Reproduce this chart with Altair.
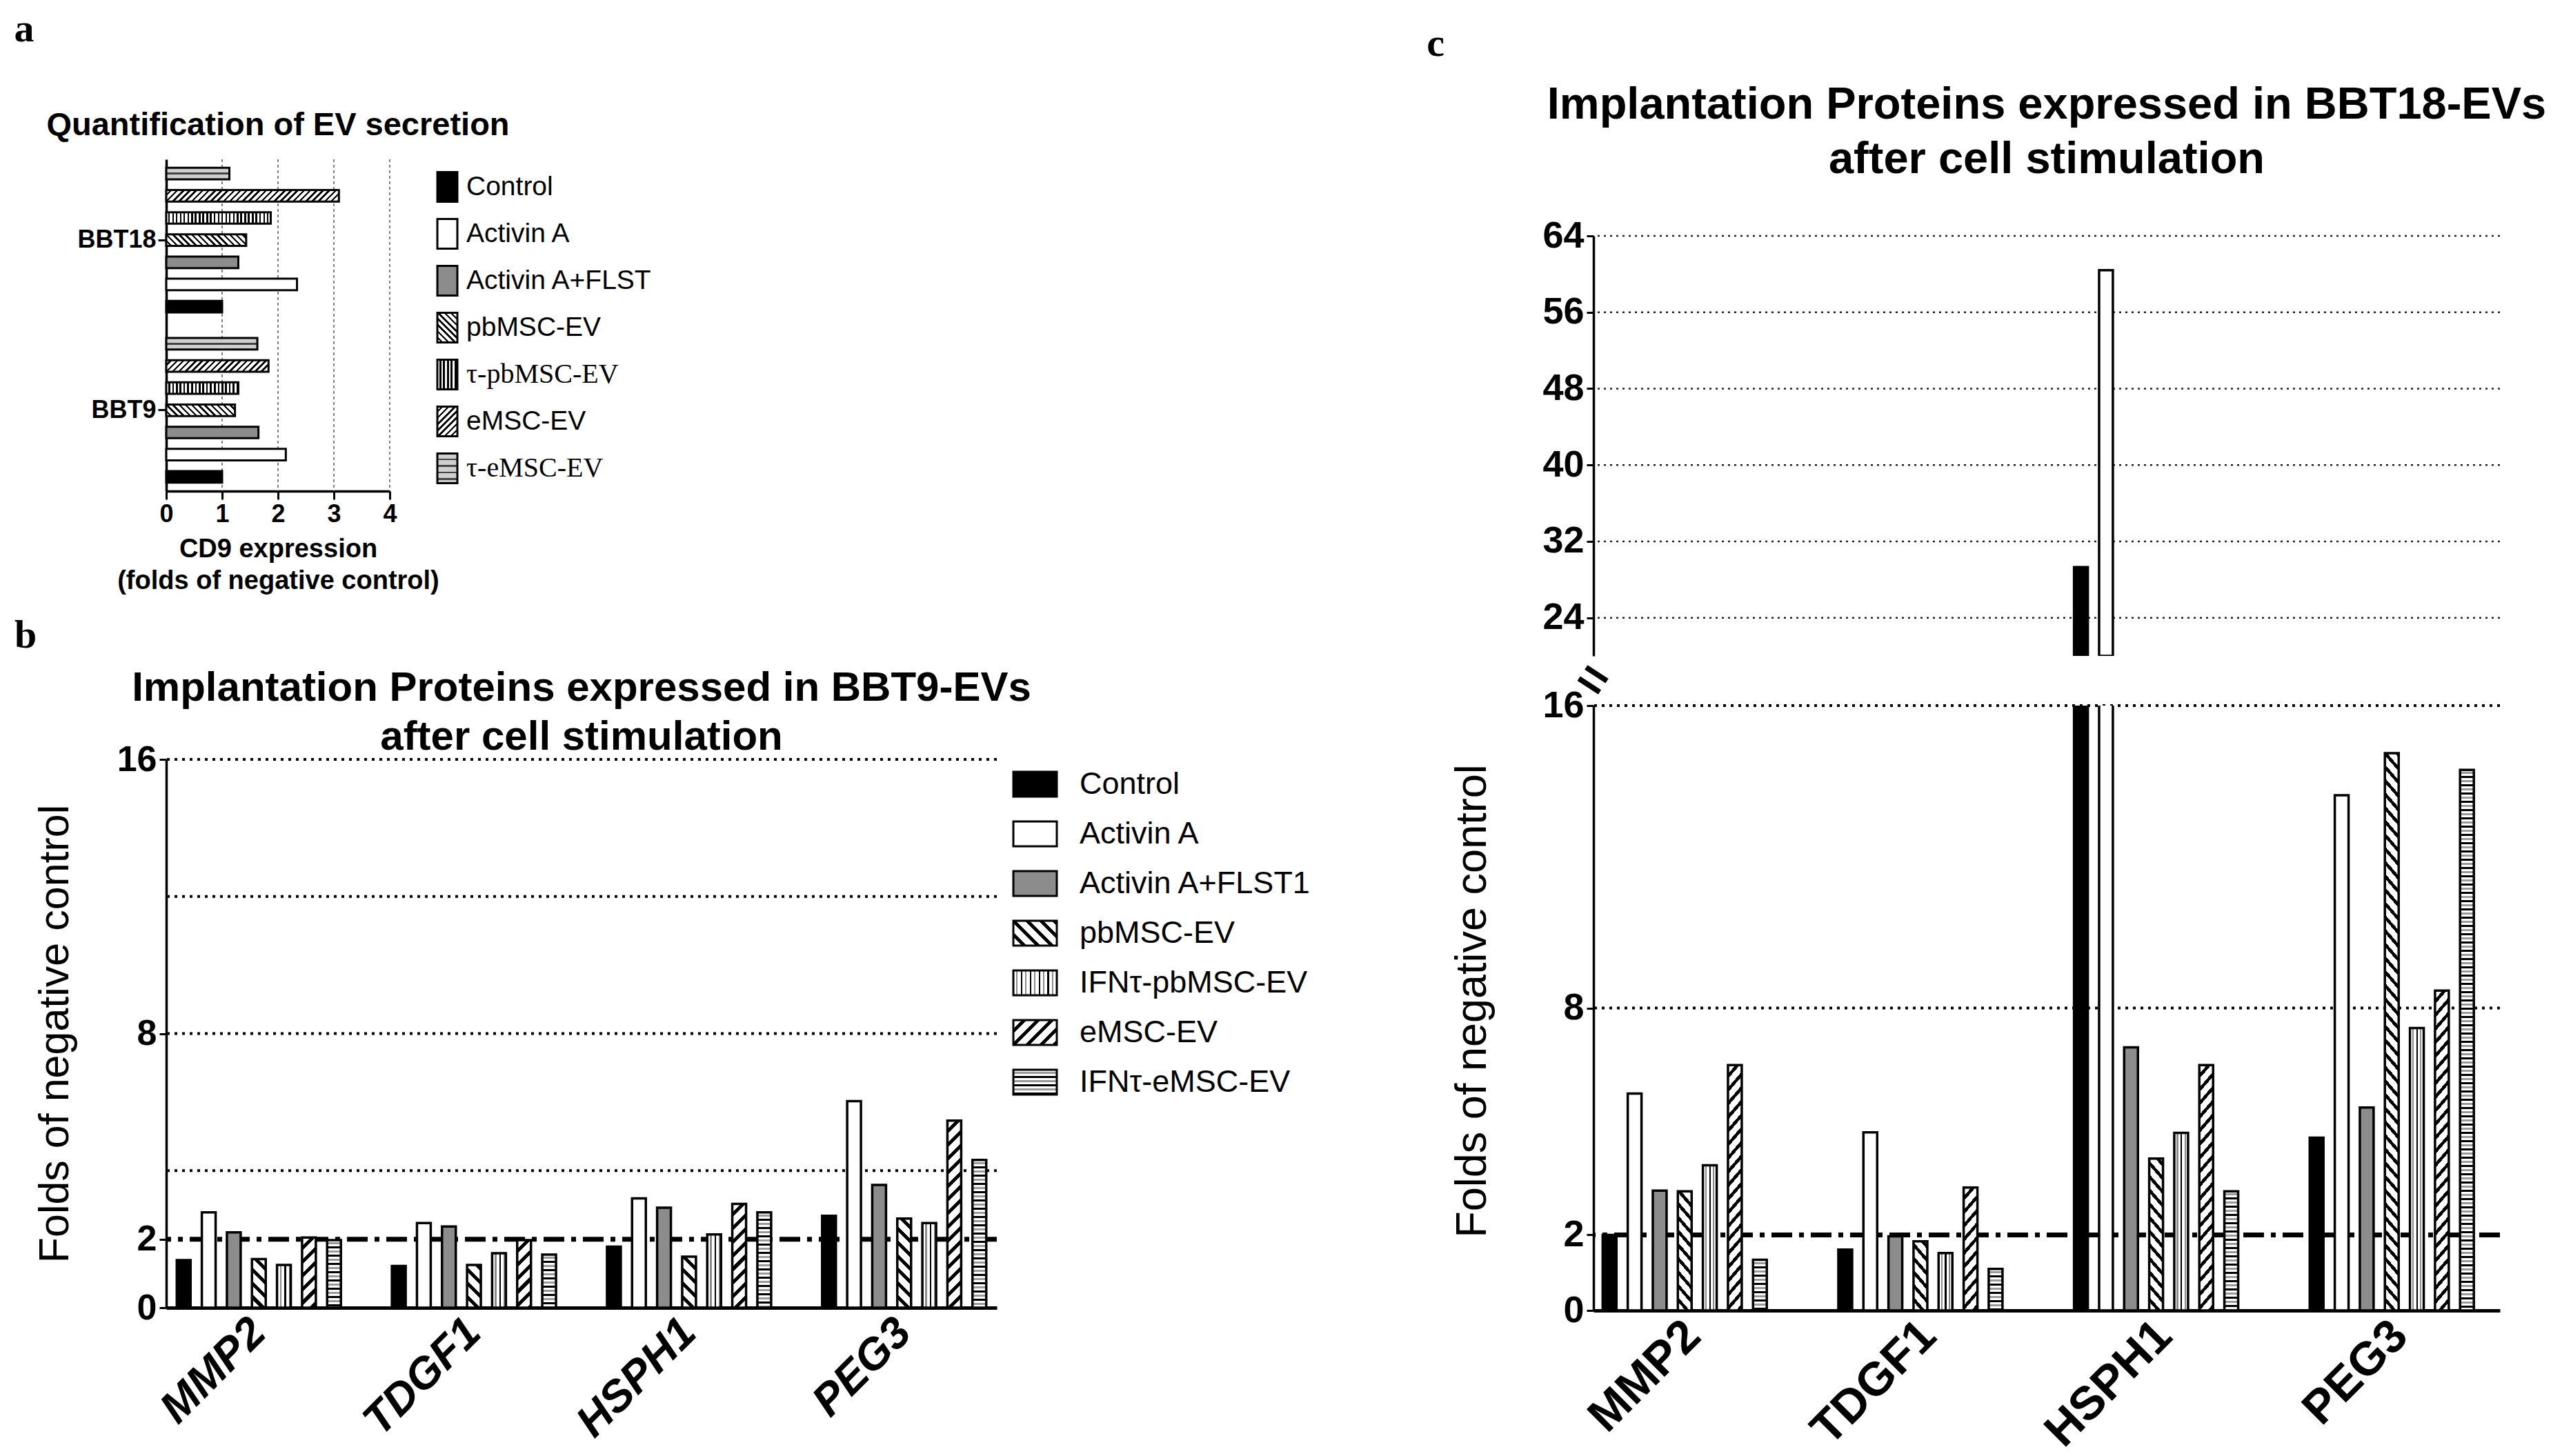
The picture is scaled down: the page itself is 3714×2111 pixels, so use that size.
import math
import altair as alt

# ---------------- data ----------------
genes = ["MMP2", "TDGF1", "HSPH1", "PEG3"]
cells_a = ["BBT18", "BBT9"]
conds_a = ["Control", "Activin A", "Activin A+FLST", "pbMSC-EV", "τ-pbMSC-EV", "eMSC-EV", "τ-eMSC-EV"]
conds_bc = ["Control", "Activin A", "Activin A+FLST1", "pbMSC-EV", "IFNτ-pbMSC-EV", "eMSC-EV", "IFNτ-eMSC-EV"]

# panel a: CD9 expression (order of conds_a)
a_bbt18 = [1.00, 2.34, 1.29, 1.43, 1.87, 3.09, 1.13]
a_bbt9 = [1.00, 2.14, 1.65, 1.23, 1.29, 1.83, 1.63]

# panel b: BBT9-EVs (order of conds_bc)
b_mmp2 = [1.39, 2.78, 2.20, 1.42, 1.25, 2.05, 1.97]
b_tdgf1 = [1.22, 2.47, 2.37, 1.25, 1.59, 1.97, 1.55]
b_hsph1 = [1.78, 3.19, 2.92, 1.49, 2.14, 3.03, 2.78]
b_peg3 = [2.68, 6.03, 3.58, 2.60, 2.47, 5.46, 4.31]

# panel c: BBT18-EVs (order of conds_bc)
c_mmp2 = [2.00, 5.74, 3.17, 3.15, 3.84, 6.49, 1.34]
c_tdgf1 = [1.61, 4.71, 1.96, 1.83, 1.52, 3.25, 1.10]
c_hsph1 = [29.3, 60.4, 6.96, 4.02, 4.70, 6.49, 3.15]
c_peg3 = [4.57, 13.63, 5.37, 14.74, 7.47, 8.46, 14.30]

a_ticks = [0, 1, 2, 3, 4]
a_grid = [1, 2, 3, 4]
b_ticks = [0, 2, 8, 16]
b_grid = [4, 8, 12, 16]
c_low_ticks = [0, 2, 8, 16]
c_low_grid = [8, 16]
c_up_ticks = [24, 32, 40, 48, 56, 64]
ref_level = [2]

title_b = ["Implantation Proteins expressed in BBT9-EVs", "after cell stimulation"]
title_c = ["Implantation Proteins expressed in BBT18-EVs", "after cell stimulation"]
ytitle = "Folds of negative control"

# ---------------- styles ----------------
SANS = "Liberation Sans, Arial, Helvetica, sans-serif"
SERIF = "Liberation Serif, Times New Roman, serif"
GRAY = "#8c8c8c"
kinds = ["black", "white", "gray", "back", "vert", "fwd", "horiz"]
BIG = {"back": [("white", 9), ("black", 5)],
       "fwd": [("white", 9), ("black", 5)],
       "vert": [("white", 4), (GRAY, 2.5), ("white", 4), ("black", 2.5)],
       "horiz": [("white", 3), ("#9a9a9a", 3), ("white", 3), ("black", 3)]}
SMALL = {"back": [("white", 4), ("black", 2.5)],
         "fwd": [("white", 4), ("black", 2.5)],
         "vert": [("white", 3), ("black", 2.5)],
         "horiz": [("#cfcfcf", 7), ("#444444", 2.5)]}


def paint(kind, w, h, cyc):
    # solid colour or a striped linear gradient sized for a w x h bar
    if kind == "black":
        return "black"
    if kind == "white":
        return "white"
    if kind == "gray":
        return GRAY
    w, h = max(w, 1.0), max(h, 1.0)
    if kind == "vert":
        g = dict(x1=0, y1=0, x2=1, y2=0)
        length = w
    elif kind == "horiz":
        g = dict(x1=0, y1=0, x2=0, y2=1)
        length = h
    else:
        a = (w + h) / (w * w + h * h)
        length = (w + h) / math.sqrt(2)
        if kind == "fwd":
            g = dict(x1=0, y1=0, x2=a * w, y2=a * h)
        else:
            g = dict(x1=0, y1=1, x2=a * w, y2=1 - a * h)
    stops = []
    pos = 0.0
    while pos < length:
        for color, size in cyc[kind]:
            if pos >= length:
                break
            stops.append({"offset": round(pos / length, 5), "color": color})
            pos += size
            stops.append({"offset": round(min(pos / length, 1), 5), "color": color})
    return {"gradient": "linear", **g, "stops": stops}


def sub_width(total, n, p_in, p_out, sub_in, m=7):
    bw = total / (n - p_in + 2 * p_out) * (1 - p_in)
    return bw / (m - sub_in) * (1 - sub_in)


def note(txt, x, y, size, weight="bold", font=SANS, angle=0, align="center"):
    mk = dict(align=align, baseline="middle", fontSize=size, fontWeight=weight,
              font=font, color="black")
    if angle:
        mk["angle"] = angle
    return alt.Chart(alt.Data(values=[{"t": txt}])).mark_text(**mk).encode(
        x=alt.value(x), y=alt.value(y), text="t:N")


def rules(vals, enc, **style):
    return alt.Chart(alt.Data(values=[{"value": v} for v in vals])).mark_rule(**style).encode(y=enc)


# ---------------- panel a ----------------
A_W, A_H = 324, 481
A_PI, A_PO, A_SUB = 0.15, 0.05, 0.48
a_thick = sub_width(A_H, 2, A_PI, A_PO, A_SUB)
a_rows = []
for cell, vals in zip(cells_a, [a_bbt18, a_bbt9]):
    for cond, kind, v in zip(conds_a, kinds, vals):
        a_rows.append({"cell": cell, "cond": cond, "value": v,
                       "fill": paint(kind, v * A_W / 4, a_thick, SMALL)})

xa = alt.X("value:Q", stack=None, scale=alt.Scale(domain=[0, 4], nice=False),
           axis=alt.Axis(values=a_ticks, grid=False, tickSize=12, tickWidth=3, domainWidth=3.5,
                         labelFontSize=36, labelFontWeight="bold", labelPadding=4, labelFlush=False,
                         title=["CD9 expression", "(folds of negative control)"], titleFontSize=38,
                         titleFontWeight="bold", titlePadding=14, titleLineHeight=46))
grid_a_layer = alt.Chart(alt.Data(values=[{"value": v} for v in a_grid])).mark_rule(
    strokeDash=[4, 4], strokeWidth=1.5, color="#555").encode(x=xa)
bars_a = alt.Chart(alt.Data(values=a_rows)).mark_bar(stroke="black", strokeWidth=3).encode(
    x=xa,
    y=alt.Y("cell:N", sort=cells_a, scale=alt.Scale(paddingInner=A_PI, paddingOuter=A_PO),
            axis=alt.Axis(title=None, tickSize=12, tickWidth=3, domainWidth=3.5, labelFontSize=36,
                          labelFontWeight="bold", labelPadding=3)),
    yOffset=alt.YOffset("cond:N", sort=conds_a[::-1], scale=alt.Scale(paddingInner=A_SUB, paddingOuter=0)),
    color=alt.Color("fill:N", scale=None),
)
chart_a = alt.layer(
    grid_a_layer, bars_a,
    note("a", -206, -188, 58, font=SERIF),
    note("Quantification of EV secretion", A_W / 2, -49, 47),
).properties(width=A_W, height=A_H)

leg_a_rows = [{"label": c, "serif": c.startswith("τ"), "fill": paint(k, 29, 43, SMALL)}
              for c, k in zip(conds_a, kinds)]
ya_leg = alt.Y("label:N", sort=conds_a, axis=None, scale=alt.Scale(paddingInner=0.368, paddingOuter=0.272))
legend_a = alt.layer(
    alt.Chart(alt.Data(values=leg_a_rows)).mark_rect(stroke="black", strokeWidth=3).encode(
        x=alt.value(0), x2=alt.value(29), y=ya_leg, color=alt.Color("fill:N", scale=None)),
    alt.Chart(alt.Data(values=leg_a_rows)).transform_filter("!datum.serif").mark_text(
        align="left", baseline="middle", fontSize=39, font=SANS).encode(x=alt.value(42), y=ya_leg, text="label:N"),
    alt.Chart(alt.Data(values=leg_a_rows)).transform_filter("datum.serif").mark_text(
        align="left", baseline="middle", fontSize=40, font=SERIF).encode(x=alt.value(42), y=ya_leg, text="label:N"),
).properties(width=260, height=488)

# ---------------- panel b ----------------
B_W, B_H = 1204, 795
B_PI, B_PO, B_SUB = 0.237, 0.049, 0.45
b_w = sub_width(B_W, 4, B_PI, B_PO, B_SUB)
b_rows = []
for gene, vals in zip(genes, [b_mmp2, b_tdgf1, b_hsph1, b_peg3]):
    for cond, kind, v in zip(conds_bc, kinds, vals):
        b_rows.append({"gene": gene, "cond": cond, "value": v,
                       "fill": paint(kind, b_w, v * B_H / 16, BIG)})

yb = alt.Y("value:Q", stack=None, scale=alt.Scale(domain=[0, 16], nice=False),
           axis=alt.Axis(values=b_ticks, grid=False, tickSize=10, tickWidth=3, domainWidth=3.5,
                         labelFontSize=52, labelFontWeight="bold", labelPadding=4, labelOverlap=False,
                         title=ytitle, titleFontSize=61, titleFontWeight="normal",
                         titleX=-161, titleY=B_H / 2, titleAngle=270, titleAlign="center",
                         titleBaseline="middle"))
xb = alt.X("gene:N", sort=genes, scale=alt.Scale(paddingInner=B_PI, paddingOuter=B_PO),
           axis=alt.Axis(title=None, labelAngle=315, labelAlign="right", labelBaseline="middle",
                         labelFontSize=64, labelFontWeight="bold", labelFontStyle="italic",
                         labelLimit=0, ticks=False, labelPadding=26, domainWidth=5))
bars_b = alt.Chart(alt.Data(values=b_rows)).mark_bar(stroke="black", strokeWidth=3.5).encode(
    x=xb, y=yb,
    xOffset=alt.XOffset("cond:N", sort=conds_bc, scale=alt.Scale(paddingInner=B_SUB, paddingOuter=0)),
    color=alt.Color("fill:N", scale=None),
)
chart_b = alt.layer(
    rules(b_grid, yb, strokeDash=[4, 7], strokeWidth=4, color="black"),
    rules(ref_level, yb, strokeDash=[30, 10, 7, 10], strokeWidth=7, color="black"),
    bars_b,
    note("b", -204, -179, 58, font=SERIF),
    note(title_b[0], B_W / 2, -103, 60),
    note(title_b[1], B_W / 2, -32, 60),
).properties(width=B_W, height=B_H)

leg_b_rows = [{"label": c, "fill": paint(k, 63, 36, BIG)} for c, k in zip(conds_bc, kinds)]
yb_leg = alt.Y("label:N", sort=conds_bc, axis=None, scale=alt.Scale(paddingInner=0.5, paddingOuter=0.25))
legend_b = alt.layer(
    alt.Chart(alt.Data(values=leg_b_rows)).mark_rect(stroke="black", strokeWidth=3).encode(
        x=alt.value(0), x2=alt.value(63), y=yb_leg, color=alt.Color("fill:N", scale=None)),
    alt.Chart(alt.Data(values=leg_b_rows)).mark_text(
        align="left", baseline="middle", fontSize=45, font=SANS).encode(x=alt.value(96), y=yb_leg, text="label:N"),
).properties(width=440, height=504)

# ---------------- panel c ----------------
C_W, C_HU, C_HL = 1314, 609, 877
C_PI, C_PO, C_SUB = 0.232, 0.039, 0.42
C_LO = 20
c_w = sub_width(C_W, 4, C_PI, C_PO, C_SUB)
c_low_rows, c_up_rows = [], []
for gene, vals in zip(genes, [c_mmp2, c_tdgf1, c_hsph1, c_peg3]):
    for cond, kind, v in zip(conds_bc, kinds, vals):
        c_low_rows.append({"gene": gene, "cond": cond, "value": v,
                           "fill": paint(kind, c_w, v * C_HL / 16, BIG)})
        c_up_rows.append({"gene": gene, "cond": cond, "value": v,
                          "fill": paint(kind, c_w, (v - C_LO) * C_HU / 44, BIG)})

xc_scale = alt.Scale(domain=genes, paddingInner=C_PI, paddingOuter=C_PO)
xoff_c = alt.XOffset("cond:N", sort=conds_bc,
                     scale=alt.Scale(domain=conds_bc, paddingInner=C_SUB, paddingOuter=0))

yu = alt.Y("value:Q", stack=None, scale=alt.Scale(domain=[C_LO, 64], nice=False, zero=False),
           axis=alt.Axis(values=c_up_ticks, grid=False, tickSize=10, tickWidth=3, domainWidth=3.5,
                         labelFontSize=54, labelFontWeight="bold", labelPadding=4, labelOverlap=False,
                         title=None))
c_up = alt.layer(
    rules(c_up_ticks, yu, strokeDash=[3, 6], strokeWidth=2.5, color="#222"),
    alt.Chart(alt.Data(values=c_up_rows)).transform_filter(f"datum.value > {C_LO}").mark_bar(
        stroke="black", strokeWidth=3.5, clip=True).encode(
        x=alt.X("gene:N", sort=genes, scale=xc_scale, axis=None), y=yu, xOffset=xoff_c,
        color=alt.Color("fill:N", scale=None)),
).properties(width=C_W, height=C_HU)

yl = alt.Y("value:Q", stack=None, scale=alt.Scale(domain=[0, 16], nice=False),
           axis=alt.Axis(values=c_low_ticks, grid=False, tickSize=10, tickWidth=3, domainWidth=3.5,
                         labelFontSize=54, labelFontWeight="bold", labelPadding=4, labelOverlap=False,
                         title=ytitle, titleFontSize=63, titleFontWeight="normal",
                         titleX=-176, titleY=428, titleAngle=270, titleAlign="center",
                         titleBaseline="middle"))
xc = alt.X("gene:N", sort=genes, scale=xc_scale,
           axis=alt.Axis(title=None, labelAngle=315, labelAlign="right", labelBaseline="middle",
                         labelFontSize=68, labelFontWeight="bold", labelLimit=0, ticks=False,
                         labelPadding=26, domainWidth=5))
c_low = alt.layer(
    rules(c_low_grid, yl, strokeDash=[4, 7], strokeWidth=4, color="black"),
    rules(ref_level, yl, strokeDash=[30, 10, 7, 10], strokeWidth=7, color="black"),
    alt.Chart(alt.Data(values=c_low_rows)).mark_bar(stroke="black", strokeWidth=3.5, clip=True).encode(
        x=xc, y=yl, xOffset=xoff_c, color=alt.Color("fill:N", scale=None)),
    note("=", -2, -36, 72, angle=33),
).properties(width=C_W, height=C_HL)

c_head = alt.layer(
    note("c", -229, -167, 58, font=SERIF),
    note(title_c[0], C_W / 2, -79, 65),
    note(title_c[1], C_W / 2, 0, 65),
).properties(width=C_W, height=39)

# ---------------- layout ----------------
row_a = alt.hconcat(chart_a, legend_a, spacing=69, bounds="flush")
row_b = alt.hconcat(chart_b, legend_b, spacing=24, bounds="flush")
left = alt.vconcat(row_a, row_b, spacing=32)
right = alt.vconcat(c_head, c_up, c_low, spacing=72, bounds="flush")

chart = alt.hconcat(left, right, spacing=159).properties(
    padding={"left": 12, "top": 6, "right": 5, "bottom": 5}
).configure_view(stroke=None).configure_axis(
    labelFont=SANS, titleFont=SANS, labelColor="black", titleColor="black",
    domainColor="black", tickColor="black",
)

chart.save("out.html", embed_options={"renderer": "svg", "actions": False})
